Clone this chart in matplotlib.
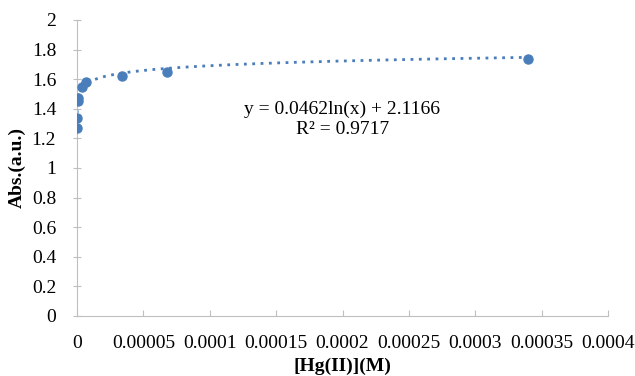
import numpy as np
import matplotlib
matplotlib.use("Agg")
import matplotlib.pyplot as plt
from matplotlib.ticker import FuncFormatter, MultipleLocator

# measured points
hg_conc = [1e-7, 2e-7, 5e-7, 1e-6, 3.4e-6, 6.8e-6, 3.4e-5, 6.8e-5, 3.4e-4]
absorb = [1.272, 1.34, 1.455, 1.475, 1.545, 1.583, 1.624, 1.651, 1.736]

# log trendline from the chart
fit_a = 0.0462
fit_b = 2.1166
fit_r2 = 0.9717

color = "#4A7EBB"
plt.rcParams["font.family"] = ["Liberation Serif", "DejaVu Serif"]

fig = plt.figure(figsize=(6.35, 3.76), dpi=100)
ax = fig.add_axes([77 / 635, 60 / 376, 531 / 635, 296 / 376])

x_fit = np.linspace(min(hg_conc), max(hg_conc), 2000)
y_fit = fit_a * np.log(x_fit) + fit_b
ax.plot(x_fit, y_fit, linestyle=(0, (1, 2)), color=color, linewidth=2, zorder=2)
ax.plot(hg_conc, absorb, "o", color=color, markersize=6.5, zorder=3)

ax.set_xlim(0, 0.0004)
ax.set_ylim(0, 2)
ax.xaxis.set_major_locator(MultipleLocator(0.00005))
ax.yaxis.set_major_locator(MultipleLocator(0.2))
ax.xaxis.set_major_formatter(
    FuncFormatter(lambda v, p: f"{v:.5f}".rstrip("0").rstrip("."))
)
ax.yaxis.set_major_formatter(FuncFormatter(lambda v, p: f"{v:.1f}".rstrip("0").rstrip(".")))

for side in ["top", "right"]:
    ax.spines[side].set_visible(False)
for side in ["left", "bottom"]:
    ax.spines[side].set_color("#BFBFBF")
ax.tick_params(axis="x", direction="in", length=4, color="#BFBFBF",
               labelsize=14, pad=14)
ax.tick_params(axis="y", direction="inout", length=6, color="#BFBFBF",
               labelsize=14, pad=12)

ax.set_ylabel("Abs.(a.u.)", fontsize=14, fontweight="bold", labelpad=4)
ax.set_xlabel("[Hg(II)](M)", fontsize=14, fontweight="bold", labelpad=4)

ax.text(0.0002, 1.33, f"y = {fit_a}ln(x) + {fit_b}\nR² = {fit_r2}",
        ha="center", va="center", fontsize=14, linespacing=1.25)

fig.savefig("out.png", dpi=100)
